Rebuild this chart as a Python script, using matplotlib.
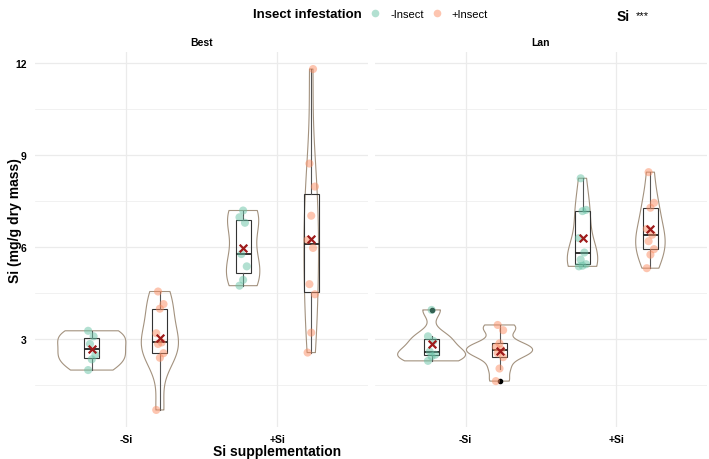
import numpy as np
import matplotlib
matplotlib.use("Agg")
import matplotlib.pyplot as plt
from matplotlib.lines import Line2D

plt.rcParams['font.family'] = ['Liberation Sans', 'DejaVu Sans']

# Si content (mg/g dry mass)
cultivars = ["Best", "Lan"]
si_levels = ["-Si", "+Si"]
insect_levels = ["-Insect", "+Insect"]

best_minus_si_minus_insect = [2.0, 2.35, 2.5, 2.85, 3.1, 3.28]
best_minus_si_plus_insect = [0.7, 2.4, 2.55, 2.85, 2.9, 3.2, 4.0, 4.15, 4.56]
best_plus_si_minus_insect = [4.75, 4.94, 5.38, 5.78, 6.8, 6.98, 7.2]
best_plus_si_plus_insect = [2.57, 3.22, 4.47, 4.8, 5.98, 6.24, 7.03, 7.98, 8.73, 11.81]
lan_minus_si_minus_insect = [2.3, 2.45, 2.5, 2.6, 2.95, 3.1, 3.96]
lan_minus_si_plus_insect = [1.64, 2.05, 2.42, 2.55, 2.67, 2.75, 2.87, 3.3, 3.47]
lan_plus_si_minus_insect = [5.38, 5.4, 5.45, 5.6, 5.83, 6.3, 7.18, 7.22, 8.25]
lan_plus_si_plus_insect = [5.32, 5.76, 5.94, 6.2, 6.41, 6.6, 7.29, 7.45, 8.45]

data = {
    "Best": [[best_minus_si_minus_insect, best_minus_si_plus_insect],
             [best_plus_si_minus_insect, best_plus_si_plus_insect]],
    "Lan": [[lan_minus_si_minus_insect, lan_minus_si_plus_insect],
            [lan_plus_si_minus_insect, lan_plus_si_plus_insect]],
}

colors = ["#66C2A5", "#FC8D62"]
violin_col = "#a3927f"
grid_col = "#EBEBEB"
dodge = 0.225
violin_width = 0.45
box_width = 0.1


def kde_nrd0(vals, npts=512):
    v = np.asarray(vals, dtype=float)
    n = len(v)
    sd = v.std(ddof=1)
    iqr = np.subtract(*np.percentile(v, [75, 25]))
    bw = 0.9 * min(sd, iqr / 1.34) * n ** -0.2
    y = np.linspace(v.min(), v.max(), npts)
    dens = np.exp(-0.5 * ((y[:, None] - v[None, :]) / bw) ** 2).sum(axis=1)
    dens /= n * bw * np.sqrt(2 * np.pi)
    return y, dens


all_vals = np.concatenate([np.concatenate(g) for c in cultivars for g in data[c]])
lo, hi = all_vals.min(), all_vals.max()
pad = 0.05 * (hi - lo)

fig = plt.figure(figsize=(7.09, 4.6), dpi=100)
ax_l = fig.add_axes([35 / 709, 32 / 460, 333 / 709, 375 / 460])
ax_r = fig.add_axes([375 / 709, 32 / 460, 332 / 709, 375 / 460])

for ax, cult in zip([ax_l, ax_r], cultivars):
    groups = data[cult]
    # area scaling of violins within the panel
    kdes = [[kde_nrd0(groups[i][j]) for j in range(2)] for i in range(2)]
    dmax = max(k[1].max() for row in kdes for k in row)

    for i in range(2):
        for j in range(2):
            vals = np.array(groups[i][j])
            xc = (i + 1) + (-dodge if j == 0 else dodge)
            y, d = kdes[i][j]
            half = d / dmax * violin_width / 2
            ax.fill_betweenx(y, xc - half, xc + half, facecolor="none",
                             edgecolor=violin_col, linewidth=0.8, zorder=2)
            ax.boxplot(vals, positions=[xc], widths=box_width, showcaps=False,
                       patch_artist=True, manage_ticks=False,
                       boxprops=dict(facecolor="none", edgecolor="#333333", linewidth=0.8),
                       whiskerprops=dict(color="#555555", linewidth=0.8),
                       medianprops=dict(color="#222222", linewidth=1.3),
                       flierprops=dict(marker="o", markersize=3, markerfacecolor="black",
                                       markeredgecolor="black"),
                       zorder=3)
            jit = (((np.arange(len(vals)) * 7) % 5) - 2) * 0.012
            ax.scatter(xc + jit, vals, s=34, color=colors[j], alpha=0.5,
                       edgecolors="none", zorder=4)
            ax.scatter([xc], [vals.mean()], marker="x", s=30, color="#9E1B1B",
                       linewidths=1.6, zorder=5)

    ax.set_xlim(0.4, 2.6)
    ax.set_ylim(lo - pad, hi + pad)
    ax.set_xticks([1, 2])
    ax.set_xticklabels(si_levels, fontsize=7.5, fontweight="bold")
    ax.set_yticks([3, 6, 9, 12])
    ax.set_yticks([1.5, 4.5, 7.5, 10.5], minor=True)
    ax.grid(True, which="major", color=grid_col, linewidth=0.9, zorder=0)
    ax.grid(True, which="minor", axis="y", color=grid_col, linewidth=0.5, zorder=0)
    ax.tick_params(which="both", length=0)
    ax.tick_params(axis="x", pad=5)
    ax.tick_params(axis="y", pad=6)
    for s in ax.spines.values():
        s.set_visible(False)
    ax.set_axisbelow(True)
    ax.set_title(cult, fontsize=7.5, fontweight="bold", pad=5)

ax_l.set_yticklabels(["3", "6", "9", "12"], fontsize=7.5, fontweight="bold")
ax_r.set_yticklabels([])

fig.text(15 / 709, 1 - 221 / 460, "Si (mg/g dry mass)", rotation=90, ha="center",
         va="center", fontsize=10, fontweight="bold")
fig.text(277 / 709, 1 - 452 / 460, "Si supplementation", ha="center", va="center",
         fontsize=10, fontweight="bold")

# legend on top
fig.text(253 / 709, 1 - 15 / 460, "Insect infestation", ha="left", va="center",
         fontsize=9.5, fontweight="bold")
handles = [Line2D([], [], linestyle="none", marker="o", markersize=5.5,
                  markerfacecolor=c, markeredgecolor="none", alpha=0.5) for c in colors]
fig.legend(handles, insect_levels, loc="center left", ncol=2, frameon=False,
           bbox_to_anchor=(369.5 / 709, 1 - 15 / 460), fontsize=8, handlelength=1,
           handletextpad=0.85, columnspacing=0.7, borderaxespad=0, borderpad=0)

fig.text(617 / 709, 1 - 17 / 460, "Si", ha="left", va="center", fontsize=10,
         fontweight="bold")
fig.text(636 / 709, 1 - 16 / 460, "***", ha="left", va="center", fontsize=8)

fig.savefig("out.png", dpi=100)
